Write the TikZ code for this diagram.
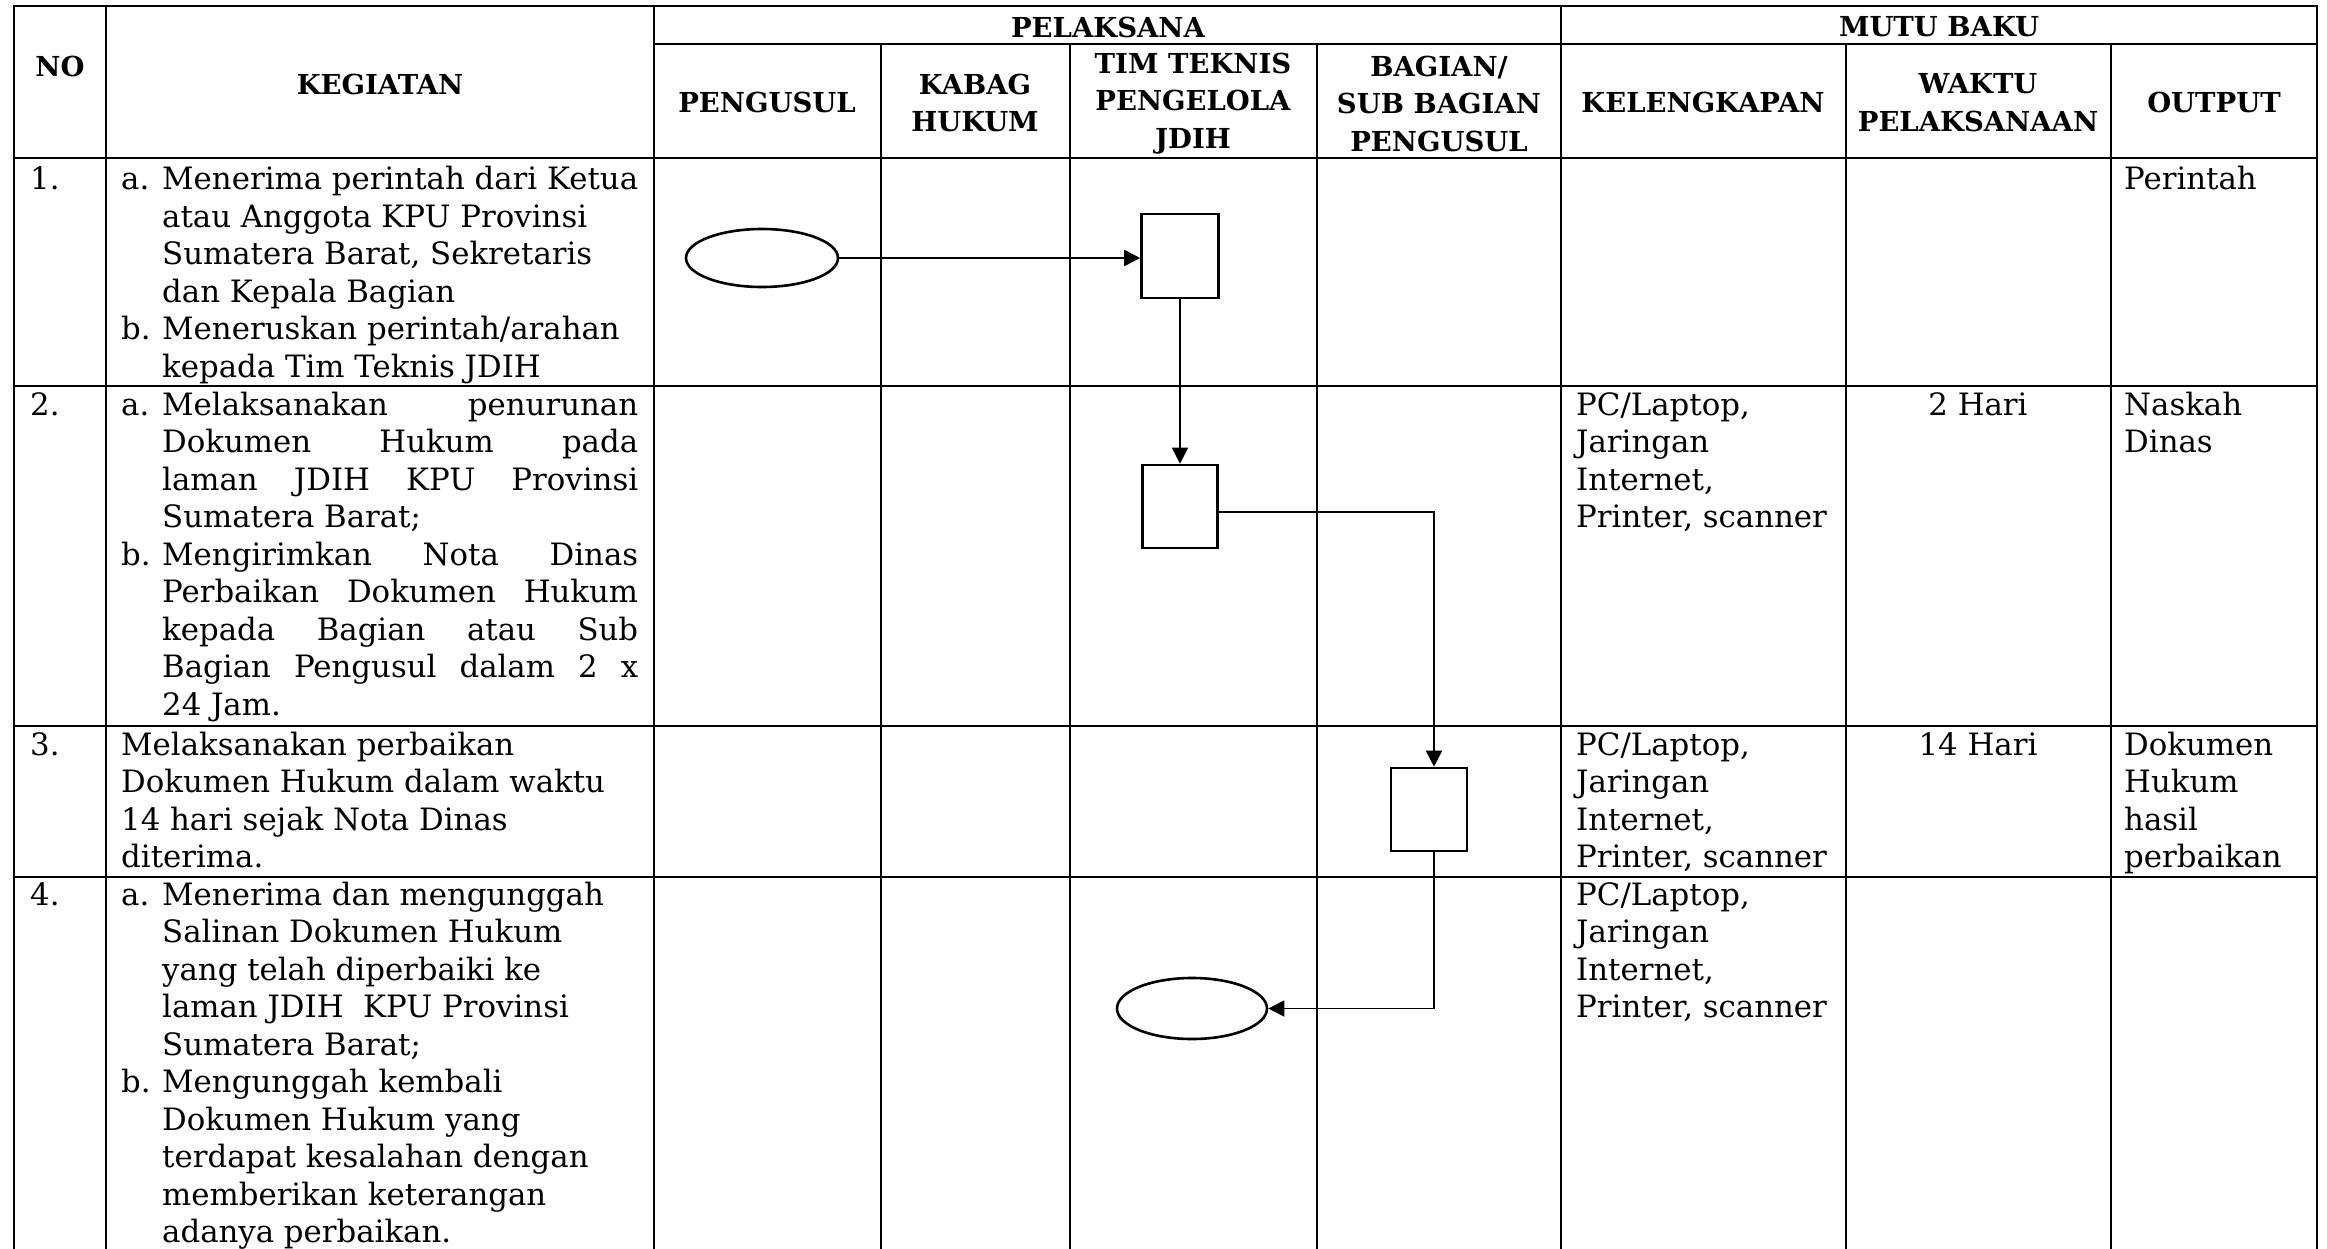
\documentclass[tikz,border=0pt]{standalone}
\usepackage{fontspec}
\setmainfont{DejaVu Serif}
\usetikzlibrary{arrows.meta,shapes.geometric,calc}
\newcommand{\itemlab}[1]{\makebox[41pt][l]{#1}}
\newcommand{\hind}{\hspace*{41pt}}
\newcommand{\jline}[1]{\makebox[476pt][s]{#1}}
\newcommand{\cellbox}[1]{\parbox[t]{600pt}{\raggedright #1}}
\begin{document}
\begin{tikzpicture}[x=1pt,y=-1pt,
  hl/.style={line width=2.2pt},
  vl/.style={line width=1.8pt},
  shp/.style={draw,line width=2.6pt,inner sep=0pt},
  boxn/.style={shp,rectangle,minimum width=77pt,minimum height=84pt},
  oval/.style={shp,ellipse,minimum width=152pt,minimum height=58pt},
  arr/.style={line width=1.8pt,-{Triangle[length=16pt,width=16pt]}},
  body/.style={inner sep=0pt,anchor=base west,font=\fontsize{30.8}{37.5}\selectfont},
  head/.style={inner sep=0pt,align=center,font=\bfseries\fontsize{27.5}{37.5}\selectfont}]
\useasboundingbox[fill=white] (0,0) rectangle (2327,1249);

% table grid
\draw[hl] (14,1249) -- (14,6) -- (2317,6) -- (2317,1249);
\draw[hl] (654,44) -- (2317,44);
\foreach \yy in {158,386,726,877} \draw[hl] (14,\yy) -- (2317,\yy);
\foreach \xx in {106,654,1561} \draw[vl] (\xx,6) -- (\xx,1249);
\foreach \xx in {881,1070,1317,1846,2111} \draw[vl] (\xx,44) -- (\xx,1249);

% headers
\node[head] (hNO) at (60,66) {NO};
\node[head] (hKEG) at (380,84) {KEGIATAN};
\node[head] (hPEL) at (1108,27) {PELAKSANA};
\node[head] (hMUTU) at (1939,27) {MUTU BAKU};
\node[head] (hPENG) at (767,102) {PENGUSUL};
\node[head] (hKAB) at (975,103) {KABAG\\HUKUM};
\node[head] (hTIM) at (1193,103.5) {TIM TEKNIS\\PENGELOLA\\JDIH};
\node[head] (hBAG) at (1439,103.5) {BAGIAN/\\SUB BAGIAN\\PENGUSUL};
\node[head] (hKEL) at (1703,102) {KELENGKAPAN};
\node[head] (hWAK) at (1978,102.5) {WAKTU\\PELAKSANAAN};
\node[head] (hOUT) at (2214,102) {OUTPUT};

% row numbers
\node[body] (n1) at (30,190) {1.};
\node[body] (n2) at (30,415) {2.};
\node[body] (n3) at (30,755) {3.};
\node[body] (n4) at (30,905) {4.};

% kegiatan
\node[body] (k1) at (121,190) {\cellbox{%
\itemlab{a.}Menerima perintah dari Ketua\\
\hind atau Anggota KPU Provinsi\\
\hind Sumatera Barat, Sekretaris\\
\hind dan Kepala Bagian\\
\itemlab{b.}Meneruskan perintah/arahan\\
\hind kepada Tim Teknis JDIH}};
\node[body] (k2) at (121,415) {\cellbox{%
\itemlab{a.}\jline{Melaksanakan penurunan}\\
\hind\jline{Dokumen Hukum pada}\\
\hind\jline{laman JDIH KPU Provinsi}\\
\hind Sumatera Barat;\\
\itemlab{b.}\jline{Mengirimkan Nota Dinas}\\
\hind\jline{Perbaikan Dokumen Hukum}\\
\hind\jline{kepada Bagian atau Sub}\\
\hind\jline{Bagian Pengusul dalam 2 x}\\
\hind 24 Jam.}};
\node[body] (k3) at (121,755) {\cellbox{%
Melaksanakan perbaikan\\
Dokumen Hukum dalam waktu\\
14 hari sejak Nota Dinas\\
diterima.}};
\node[body] (k4) at (121,905) {\cellbox{%
\itemlab{a.}Menerima dan mengunggah\\
\hind Salinan Dokumen Hukum\\
\hind yang telah diperbaiki ke\\
\hind laman JDIH\ \ KPU Provinsi\\
\hind Sumatera Barat;\\
\itemlab{b.}Mengunggah kembali\\
\hind Dokumen Hukum yang\\
\hind terdapat kesalahan dengan\\
\hind memberikan keterangan\\
\hind adanya perbaikan.}};

% kelengkapan
\node[body] (l2) at (1576,415) {\cellbox{PC/Laptop,\\Jaringan\\Internet,\\Printer, scanner}};
\node[body] (l3) at (1576,755) {\cellbox{PC/Laptop,\\Jaringan\\Internet,\\Printer, scanner}};
\node[body] (l4) at (1576,905) {\cellbox{PC/Laptop,\\Jaringan\\Internet,\\Printer, scanner}};

% waktu
\node[body,anchor=base] (w2) at (1978,415) {2 Hari};
\node[body,anchor=base] (w3) at (1978,755) {14 Hari};

% output
\node[body] (o1) at (2124,190) {Perintah};
\node[body] (o2) at (2124,415) {\cellbox{Naskah\\Dinas}};
\node[body] (o3) at (2124,755) {\cellbox{Dokumen\\Hukum\\hasil\\perbaikan}};

% flow shapes
\node[oval] (e1) at (762,258) {};
\node[boxn] (b1) at (1180,256) {};
\node[boxn,minimum width=75pt,minimum height=83pt] (b2) at (1180,506.5) {};
\node[boxn,minimum width=76pt,minimum height=83pt] (b3) at (1429,809.5) {};
\node[oval,minimum width=150pt,minimum height=61pt] (e2) at (1192,1008.5) {};

% connectors
\draw[arr] (e1.east) -- (e1.east -| b1.west);
\draw[arr] (b1.south) -- (b2.north);
\draw[arr] ([yshift=-5.5pt]b2.east) -| ([xshift=5pt]b3.north);
\draw[arr] ([xshift=5pt]b3.south) |- (e2.east);
\end{tikzpicture}
\end{document}
